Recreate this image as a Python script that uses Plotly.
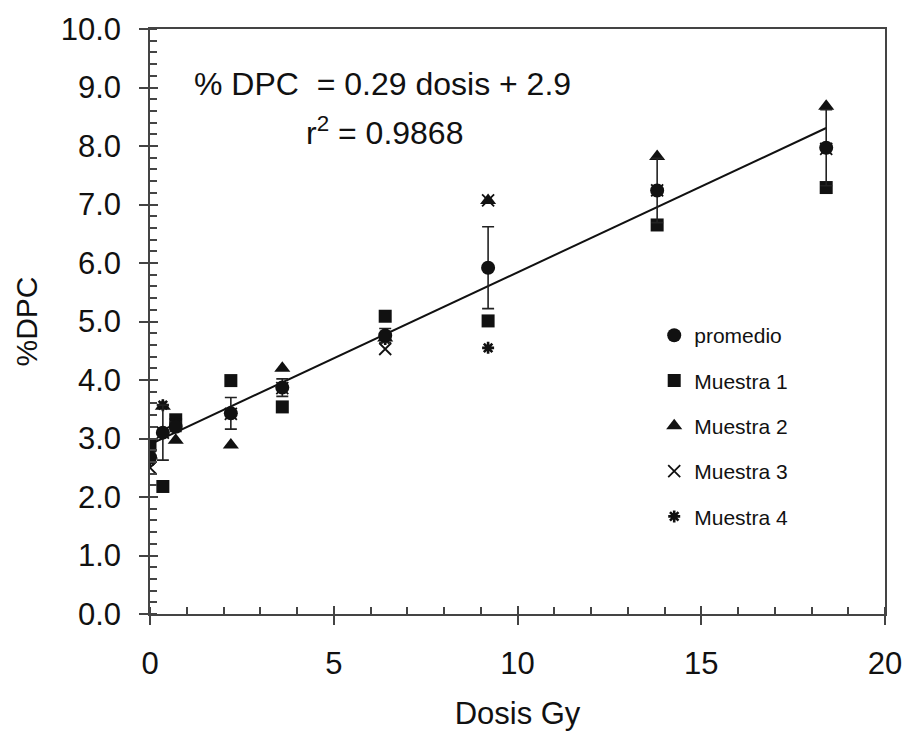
import numpy as np
import plotly.graph_objects as go

# Dose levels (Gy) and %DPC readings per sample
dosis = [0.0, 0.35, 0.7, 2.2, 3.6, 6.4, 9.2, 13.8, 18.4]
muestra1 = [2.88, 2.18, 3.32, 3.99, 3.54, 5.09, 5.01, 6.65, 7.29]
muestra2 = [2.72, 3.55, 2.97, 2.89, 4.20, 4.72, 7.07, 7.82, 8.68]
muestra3 = [2.50, 3.10, 3.24, 3.42, 3.86, 4.53, 7.07, 7.24, 7.95]
muestra4 = [2.62, 3.57, 3.26, 3.42, 3.88, 4.70, 4.55, 7.25, 7.96]
promedio = [2.68, 3.10, 3.20, 3.43, 3.87, 4.76, 5.92, 7.24, 7.97]
error_prom = [0.10, 0.47, 0.08, 0.27, 0.15, 0.12, 0.70, 0.55, 0.65]

ecuacion = "% DPC  = 0.29 dosis + 2.9"
r2_texto = "r<sup>2</sup> = 0.9868"

FONT = "Arial, Liberation Sans, sans-serif"
INK = "#111111"
AXIS = "#444444"

# least-squares fit of the mean response
pendiente, intercepto = np.polyfit(dosis, promedio, 1)
x_fit = np.array([dosis[0], dosis[-1]])
y_fit = pendiente * x_fit + intercepto

fig = go.Figure()

fig.add_trace(go.Scatter(
    x=x_fit, y=y_fit, mode="lines", showlegend=False,
    line=dict(color=INK, width=2), hoverinfo="skip"))

series = [
    ("Muestra 1", muestra1, dict(symbol="square", size=13, color=INK)),
    ("Muestra 2", muestra2, dict(symbol="triangle-up", size=14, color=INK)),
    ("Muestra 3", muestra3, dict(symbol="x-thin-open", size=12,
                                 color=INK, line=dict(color=INK, width=1.8))),
    ("Muestra 4", muestra4, dict(symbol="asterisk-open", size=10,
                                 color=INK, line=dict(color=INK, width=2.6))),
    ("promedio", promedio, dict(symbol="circle", size=14, color=INK)),
]
rangos = {"promedio": 1, "Muestra 1": 2, "Muestra 2": 3,
          "Muestra 3": 4, "Muestra 4": 5}

# samples first, mean drawn last so it sits on top
for nombre, valores, marcador in series:
    kw = {}
    if nombre == "promedio":
        kw["error_y"] = dict(type="data", array=error_prom, visible=True,
                             color="#222222", thickness=1.6, width=6)
    fig.add_trace(go.Scatter(
        x=dosis, y=valores, mode="markers", name=nombre,
        legendgroup=nombre, legendrank=rangos[nombre],
        marker=marcador, **kw))

fig.update_layout(
    width=914, height=737,
    margin=dict(l=150, r=25, t=24, b=121),
    paper_bgcolor="white", plot_bgcolor="white",
    font=dict(family=FONT, color=INK),
    showlegend=True,
    legend=dict(x=0.686, y=0.511, xanchor="left", yanchor="top",
                font=dict(size=21, family=FONT, color=INK),
                bgcolor="rgba(0,0,0,0)", tracegroupgap=15,
                traceorder="grouped", itemwidth=30),
    xaxis=dict(
        range=[0, 20], dtick=5, tick0=0, showgrid=False, zeroline=False,
        showline=True, linecolor=AXIS, linewidth=1.5, mirror=True,
        ticks="outside", ticklen=9, tickwidth=1.5, tickcolor=AXIS,
        minor=dict(ticks="inside", dtick=1, ticklen=7, tickwidth=1.5,
                   tickcolor=AXIS, showgrid=False),
        tickfont=dict(size=31, family=FONT, color=INK),
        ticklabelstandoff=12,
        title=dict(text="Dosis Gy", font=dict(size=31, family=FONT, color=INK),
                   standoff=22),
    ),
    yaxis=dict(
        range=[0, 10], dtick=1, tick0=0, tickformat=".1f",
        showgrid=False, zeroline=False,
        showline=True, linecolor=AXIS, linewidth=1.5, mirror=True,
        ticks="outside", ticklen=9, tickwidth=1.5, tickcolor=AXIS,
        minor=dict(ticks="inside", dtick=0.2, ticklen=7, tickwidth=1.5,
                   tickcolor=AXIS, showgrid=False),
        tickfont=dict(size=31, family=FONT, color=INK),
        ticklabelstandoff=12,
        title=dict(text="%DPC", font=dict(size=30, family=FONT, color=INK),
                   standoff=14),
    ),
    # companion axes carry the inner half of the major ticks
    xaxis2=dict(range=[0, 20], dtick=5, tick0=0, overlaying="x",
                side="bottom", anchor="y", showgrid=False, zeroline=False,
                ticks="inside", ticklen=8, tickwidth=1.5, tickcolor=AXIS,
                showticklabels=False),
    yaxis2=dict(range=[0, 10], dtick=1, tick0=0, overlaying="y",
                side="left", anchor="x", showgrid=False, zeroline=False,
                ticks="inside", ticklen=8, tickwidth=1.5, tickcolor=AXIS,
                showticklabels=False),
)

# invisible trace so the companion axes are rendered
fig.add_trace(go.Scatter(x=[None], y=[None], xaxis="x2", yaxis="y2",
                         showlegend=False, hoverinfo="skip"))

# equation and r² placed by pixel position inside the plot frame
W, H = 914, 737
l, r, t, b = 150, 25, 24, 121


def frac_x(px):
    return (px - l) / (W - l - r)


def frac_y(py):
    return 1 - (py - t) / (H - t - b)


fig.add_annotation(x=frac_x(192), y=frac_y(80), xref="paper", yref="paper",
                   text=ecuacion, showarrow=False, xanchor="left",
                   yanchor="middle", font=dict(size=32, family=FONT, color=INK))
fig.add_annotation(x=frac_x(386), y=frac_y(127), xref="paper", yref="paper",
                   text=r2_texto, showarrow=False, xanchor="center",
                   yanchor="middle", font=dict(size=32, family=FONT, color=INK))

fig.write_html("out.html")
